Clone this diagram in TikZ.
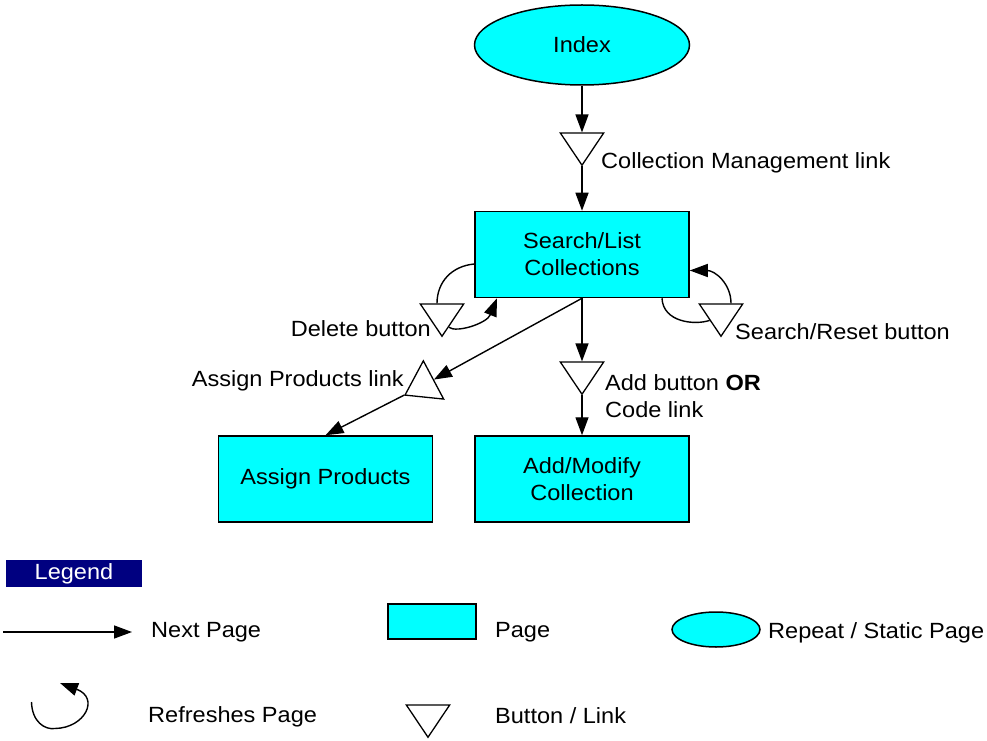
\documentclass[tikz,border=0pt]{standalone}
\usepackage{fontspec}
\setmainfont{Liberation Sans}[FakeStretch=1.07]
\usetikzlibrary{positioning,arrows.meta,shapes.geometric,calc}
\definecolor{legendblue}{RGB}{0,0,128}
\definecolor{pagecyan}{RGB}{0,255,255}

\begin{document}
\begin{tikzpicture}[
  x=1pt, y=1pt,
  font=\fontsize{22}{27}\selectfont,
  pagebox/.style={draw, rectangle, line width=1.5pt, fill=pagecyan, minimum width=214pt, minimum height=86pt, align=center, inner sep=0pt},
  staticpage/.style={draw, ellipse, line width=1.5pt, fill=pagecyan, minimum width=215pt, minimum height=80pt, inner sep=0pt},
  btn/.style={draw, regular polygon, regular polygon sides=3, shape border rotate=180, minimum size=50pt, inner sep=0pt, line width=1.3pt, fill=white, transform shape, yscale=0.86},
  lbl/.style={inner sep=0pt, align=left},
  arrow/.style={-{Triangle[length=18pt,width=13pt]}, line width=1.4pt},
  loopline/.style={line width=1.4pt}
]
\useasboundingbox (0,0) rectangle (987,740);

% ================= PAGES =================
\node[staticpage] (index) at (582,695) {Index};
\node[pagebox] (search) at (582,485.5) {Search/List\\Collections};
\node[pagebox] (assign) at (325.5,261) {Assign Products};
\node[pagebox] (addmod) at (582,261) {Add/Modify\\Collection};

% ================= BUTTONS / LINKS =================
\node[btn] (tcm) at (582,596.25) {};
\node[btn] (tdel) at (442,425.25) {};
\node[btn] (tsr) at (721,425.25) {};
\node[btn] (tadd) at (582,367.25) {};
\node[rotate=-62, btn] (tassign) at (424,355) {};

% ================== ARROWS ==================
\draw[arrow] (index) -- (tcm);
\draw[arrow] (tcm) -- (search);
\draw[arrow] (search) -- (tadd);
\draw[arrow] (tadd) -- (addmod);
\draw[arrow] (search.south) -- (tassign);
\draw[arrow] (tassign) -- (assign.north);

% refresh loops
\draw[loopline] ([yshift=-9.5pt]search.west) .. controls +(-22,-2) and +(0,22) .. ([xshift=-5pt]tdel.north);
\draw[arrow] (tdel.-65) .. controls +(8,-6) and +(-10,-25) .. ([xshift=-85pt]search.south);
\draw[loopline] ([xshift=80pt]search.south) .. controls +(1,-24) and +(-15,-5) .. (tsr.side 3);
\draw[arrow] ([xshift=10pt]tsr.north) .. controls +(0,20) and +(25,0) .. ([yshift=-16pt]search.east);

% ================= LABELS =================
\node[lbl, anchor=west] at (601,577) {Collection Management link};
\node[lbl, anchor=east] at (431,411) {Delete button};
\node[lbl, anchor=west] at (735,408) {Search/Reset button};
\node[lbl, anchor=east] at (404,359) {Assign Products link};
\node[lbl, anchor=west] at (605,343.5) {Add button \textbf{OR}\\Code link};

% ================= LEGEND =================
\node[fill=legendblue, text=white, minimum width=136pt, minimum height=27pt, inner sep=0pt] (legend) at (74,166.5) {Legend};

\coordinate (np0) at (3,108);
\coordinate (np1) at (132,108);
\draw[arrow] (np0) -- (np1);
\node[lbl, anchor=west] at (151,108) {Next Page};

\node[pagebox, minimum width=88pt, minimum height=35pt] (lpage) at (432,118.5) {};
\node[lbl, anchor=west] at (495,108) {Page};

\node[staticpage, minimum width=88pt, minimum height=35pt] (lstatic) at (716,110.5) {};
\node[lbl, anchor=west] at (768,107) {Repeat / Static Page};

\coordinate (rf0) at (31.5,38);
\coordinate (rf1) at (60,57);
\draw[arrow] (rf0) .. controls (32,18) and (45,10) .. (55,11.5) .. controls (85,12) and (100,42) .. (rf1);
\node[lbl, anchor=west] at (148,23) {Refreshes Page};

\node[btn] (lbtn) at (428,24.25) {};
\node[lbl, anchor=west] at (495,24) {Button / Link};

\end{tikzpicture}
\end{document}
